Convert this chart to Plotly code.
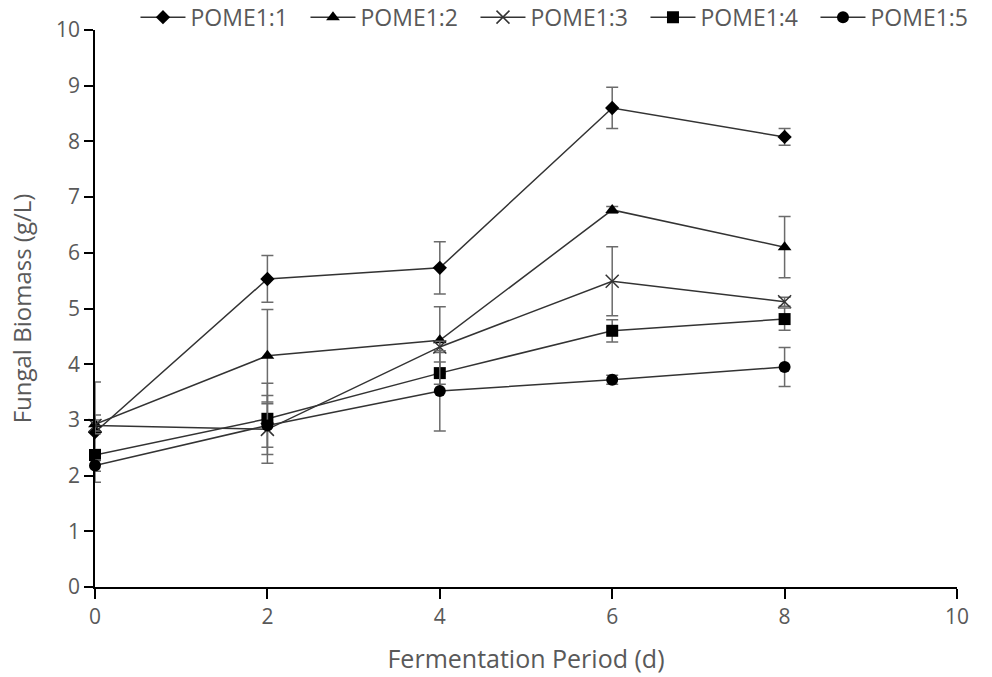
import plotly.graph_objects as go

days = [0, 2, 4, 6, 8]
series_names = ["POME1:1", "POME1:2", "POME1:3", "POME1:4", "POME1:5"]
pome11 = [2.78, 5.53, 5.73, 8.60, 8.08]
pome11_err = [0.90, 0.42, 0.47, 0.37, 0.15]
pome12 = [2.92, 4.15, 4.43, 6.77, 6.10]
pome12_err = [0.17, 0.83, 0.60, 0.06, 0.55]
pome13 = [2.90, 2.83, 4.31, 5.49, 5.12]
pome13_err = [0.10, 0.61, 0.10, 0.62, 0.08]
pome14 = [2.37, 3.02, 3.84, 4.60, 4.81]
pome14_err = [0.10, 0.64, 0.20, 0.20, 0.20]
pome15 = [2.18, 2.90, 3.52, 3.72, 3.95]
pome15_err = [0.10, 0.39, 0.72, 0.08, 0.35]

x_ticks = [0, 2, 4, 6, 8, 10]
y_ticks = [0, 1, 2, 3, 4, 5, 6, 7, 8, 9, 10]

values = [pome11, pome12, pome13, pome14, pome15]
errors = [pome11_err, pome12_err, pome13_err, pome14_err, pome15_err]
symbols = ["diamond", "triangle-up", "x-thin", "square", "circle"]
sizes = [11, 12, 13, 12, 12]

TXT = "#595959"
FONT = "Open Sans"

fig = go.Figure()
for name, y, e, sym, sz in zip(series_names, values, errors, symbols, sizes):
    marker = dict(symbol=sym, size=sz, color="#000000")
    if sym == "x-thin":
        marker["line"] = dict(color="#333333", width=1.5)
    fig.add_trace(go.Scatter(
        x=days, y=y, name=name, mode="lines+markers",
        line=dict(color="#333333", width=1.5),
        marker=marker,
        error_y=dict(type="data", array=e, visible=True, color="#6b6b6b",
                     thickness=1.5, width=6),
        cliponaxis=False,
    ))

fig.update_layout(
    width=992, height=677,
    margin=dict(l=95, r=35, t=30, b=90, autoexpand=False),
    paper_bgcolor="white", plot_bgcolor="white",
    font=dict(family=FONT, color=TXT, size=21),
    showlegend=True,
    legend=dict(orientation="h", x=0.54, xanchor="center", y=1.023, yanchor="middle",
                font=dict(size=23, color=TXT, family=FONT),
                bgcolor="rgba(255,255,255,0)", itemwidth=45,
                entrywidth=110, entrywidthmode="pixels",
                traceorder="normal"),
    xaxis=dict(range=[0, 10], tickvals=x_ticks, ticktext=[str(v) for v in x_ticks],
               showline=True, linecolor="#000000", linewidth=1.5,
               ticks="outside", ticklen=10, tickwidth=1.5, tickcolor="#000000",
               showgrid=False, zeroline=False, automargin=False,
               tickfont=dict(size=21, color=TXT, family=FONT),
               title=dict(text="Fermentation Period (d)", font=dict(size=25, color=TXT, family=FONT),
                          standoff=22)),
    yaxis=dict(range=[0, 10], tickvals=y_ticks, ticktext=[str(v) for v in y_ticks],
               showline=True, linecolor="#000000", linewidth=1.5,
               ticks="outside", ticklen=9, tickwidth=1.5, tickcolor="#000000",
               showgrid=False, zeroline=False, automargin=False,
               tickfont=dict(size=21, color=TXT, family=FONT),
               title=dict(text="Fungal Biomass (g/L)", font=dict(size=24, color=TXT, family=FONT),
                          standoff=18)),
)

fig.write_html("out.html", config={"displayModeBar": False},
               post_script="document.body.style.margin='0';")
